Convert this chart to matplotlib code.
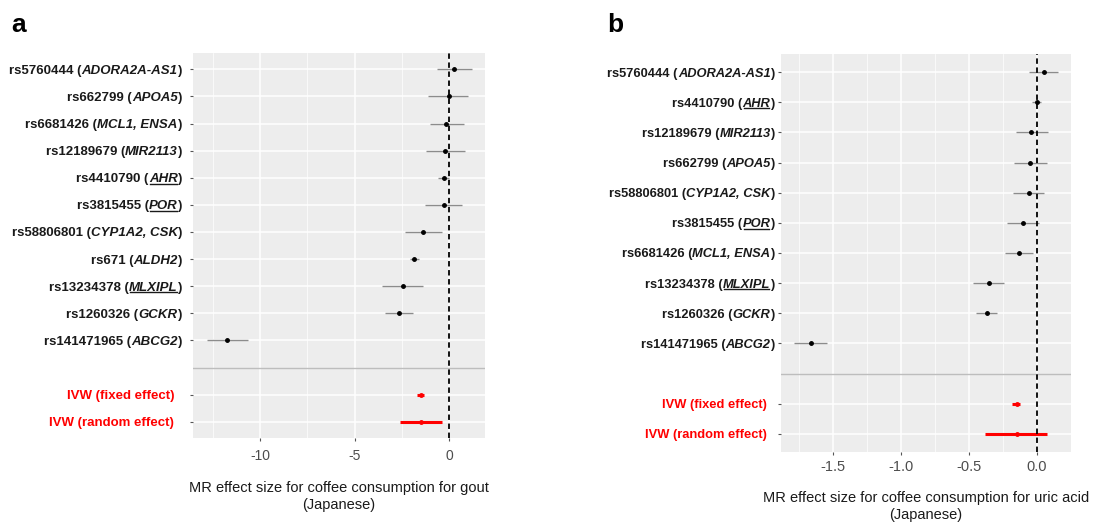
import matplotlib
matplotlib.use('Agg')
import matplotlib.pyplot as plt
from matplotlib.transforms import offset_copy
from matplotlib.lines import Line2D

plt.rcParams['font.family'] = ['Liberation Sans', 'DejaVu Sans']
plt.rcParams['axes.unicode_minus'] = False

# panel a: gout
snps_a = ["rs5760444", "rs662799", "rs6681426", "rs12189679", "rs4410790", "rs3815455",
          "rs58806801", "rs671", "rs13234378", "rs1260326", "rs141471965"]
genes_a = ["ADORA2A-AS1", "APOA5", "MCL1, ENSA", "MIR2113", "AHR", "POR",
           "CYP1A2, CSK", "ALDH2", "MLXIPL", "GCKR", "ABCG2"]
beta_a = [0.26, -0.03, -0.16, -0.2, -0.3, -0.3, -1.36, -1.85, -2.45, -2.68, -11.76]
lo_a = [-0.65, -1.1, -1.04, -1.22, -0.6, -1.3, -2.33, -2.06, -3.53, -3.39, -12.82]
hi_a = [1.2, 1.02, 0.76, 0.85, -0.03, 0.7, -0.39, -1.62, -1.36, -1.94, -10.65]
ivw_beta_a = [-1.5, -1.5]
ivw_lo_a = [-1.68, -2.6]
ivw_hi_a = [-1.32, -0.39]

# panel b: uric acid
snps_b = ["rs5760444", "rs4410790", "rs12189679", "rs662799", "rs58806801", "rs3815455",
          "rs6681426", "rs13234378", "rs1260326", "rs141471965"]
genes_b = ["ADORA2A-AS1", "AHR", "MIR2113", "APOA5", "CYP1A2, CSK", "POR",
           "MCL1, ENSA", "MLXIPL", "GCKR", "ABCG2"]
beta_b = [0.054, 0.0, -0.042, -0.047, -0.059, -0.103, -0.128, -0.352, -0.369, -1.667]
lo_b = [-0.054, -0.037, -0.155, -0.165, -0.172, -0.217, -0.234, -0.467, -0.448, -1.788]
hi_b = [0.16, 0.032, 0.081, 0.074, 0.056, 0.017, -0.03, -0.239, -0.29, -1.544]
ivw_beta_b = [-0.148, -0.148]
ivw_lo_b = [-0.18, -0.381]
ivw_hi_b = [-0.123, 0.078]

ivw_labels = ["IVW (fixed effect)", "IVW (random effect)"]
underlined = ["AHR", "POR", "MLXIPL"]

fig = plt.figure(figsize=(10.95, 5.22), dpi=100)
ax_a = fig.add_axes([0.1763, 0.1609, 0.2667, 0.7375])
ax_b = fig.add_axes([0.7130, 0.1341, 0.2651, 0.7625])
renderer = fig.canvas.get_renderer()


def rich_label(ax, y, pieces, gap, fs):
    # pieces drawn right to left, each (text, italic, underline, colour)
    trans = ax.get_yaxis_transform()
    cur = gap
    for txt, italic, ul, col in reversed(pieces):
        t = ax.text(0, y, txt, transform=offset_copy(trans, fig=fig, x=-cur, y=0, units='dots'),
                    ha='right', va='center_baseline', fontsize=fs, fontweight='bold',
                    fontstyle='italic' if italic else 'normal', color=col, clip_on=False)
        bb = t.get_window_extent(renderer)
        if ul:
            p0 = fig.transFigure.inverted().transform((bb.x0 + 1, bb.y0 + 1.5))
            p1 = fig.transFigure.inverted().transform((bb.x1 - 1, bb.y0 + 1.5))
            fig.add_artist(Line2D([p0[0], p1[0]], [p0[1], p1[1]], color=col, lw=1))
        cur += bb.width


def forest(ax, snps, genes, beta, lo, hi, ib, ilo, ihi, xlim, major, minor, xlabel,
           gap, ivw_gap, fs, tfs, lfs, tpad, pad, lsp):
    n = len(snps) + 3
    ys = [n - i for i in range(len(snps))]
    sep_y = n - len(snps)
    ivw_y = [sep_y - 1, sep_y - 2]
    ax.set_facecolor('#EDEDED')
    ax.set_xlim(xlim)
    ax.set_ylim(0.4, n + 0.6)
    ax.set_xticks(major)
    ax.set_xticks(minor, minor=True)
    ax.set_yticks(ys + ivw_y)
    ax.grid(which='major', color='white', lw=1.1)
    ax.grid(which='minor', axis='x', color='white', lw=0.5)
    ax.set_axisbelow(True)
    for s in ax.spines.values():
        s.set_visible(False)
    ax.tick_params(axis='y', labelleft=False, length=2, color='#555555', width=0.8)
    ax.tick_params(axis='x', which='major', length=2.5, color='#555555', width=0.8,
                   labelcolor='#4D4D4D', labelsize=tfs, pad=tpad)
    ax.tick_params(axis='x', which='minor', length=0)
    ax.axhline(sep_y, color='#BDBDBD', lw=1)
    ax.hlines(ys, lo, hi, color='#8C8C8C', lw=1)
    ax.plot(beta, ys, 'o', color='black', ms=2.5)
    ax.hlines(ivw_y, ilo, ihi, color='red', lw=2.2)
    ax.plot(ib, ivw_y, 'o', color='red', ms=2.5)
    ax.axvline(0, color='black', ls=(0, (3, 2)), lw=1.3)
    ax.set_xlabel(xlabel, fontsize=lfs, color='#1A1A1A', labelpad=pad, linespacing=lsp)
    for y, snp, gene in zip(ys, snps, genes):
        rich_label(ax, y, [(snp + " (", False, False, '#1A1A1A'),
                           (gene, True, gene in underlined, '#1A1A1A'),
                           (")", False, False, '#1A1A1A')], gap, fs)
    for y, lab in zip(ivw_y, ivw_labels):
        rich_label(ax, y, [(lab, False, False, 'red')], ivw_gap, fs)


forest(ax_a, snps_a, genes_a, beta_a, lo_a, hi_a, ivw_beta_a, ivw_lo_a, ivw_hi_a,
       (-13.55, 1.9), [-10, -5, 0], [-12.5, -7.5, -2.5],
       "MR effect size for coffee consumption for gout\n(Japanese)",
       11, 19, 9.5, 10, 10.5, 5.5, 13, 1.25)
forest(ax_b, snps_b, genes_b, beta_b, lo_b, hi_b, ivw_beta_b, ivw_lo_b, ivw_hi_b,
       (-1.888, 0.253), [-1.5, -1.0, -0.5, 0.0], [-1.75, -1.25, -0.75, -0.25, 0.25],
       "MR effect size for coffee consumption for uric acid\n(Japanese)",
       6, 14, 9.3, 10.5, 10.5, 3.5, 12, 1.3)

fig.text(0.010, 0.952, "a", fontsize=19, fontweight='bold', va='center', ha='left')
fig.text(0.555, 0.952, "b", fontsize=19, fontweight='bold', va='center', ha='left')

fig.savefig("out.png", dpi=100)
